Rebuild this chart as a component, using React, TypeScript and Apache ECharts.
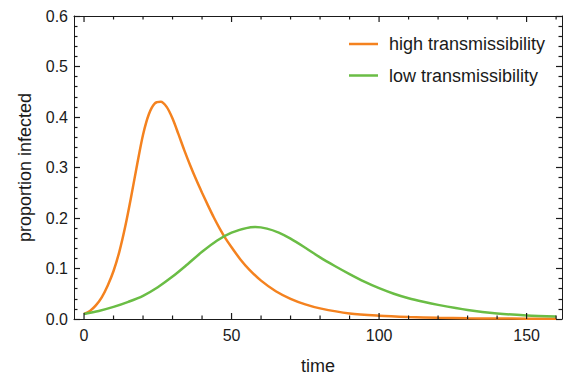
import React, { useEffect, useRef } from "react";
import * as echarts from "echarts";

const seriesNames = ["high transmissibility", "low transmissibility"];
const tHigh = [0, 2, 4, 6, 8, 10, 12, 14, 16, 18, 20, 22, 24, 26, 28, 30, 32, 34, 36, 38, 40, 42, 44, 46, 48, 50, 53, 56, 60, 65, 70, 75, 80, 90, 100, 110, 120, 130, 140, 150, 160];
const vHigh = [0.010, 0.016, 0.027, 0.043, 0.066, 0.095, 0.134, 0.184, 0.243, 0.306, 0.365, 0.406, 0.427, 0.430, 0.420, 0.397, 0.366, 0.334, 0.304, 0.276, 0.250, 0.225, 0.201, 0.179, 0.159, 0.142, 0.118, 0.098, 0.076, 0.055, 0.040, 0.029, 0.021, 0.011, 0.0065, 0.004, 0.0025, 0.0015, 0.001, 0.0006, 0.0004];
const tLow = [0, 5, 10, 15, 20, 25, 30, 35, 40, 45, 50, 55, 58, 62, 66, 70, 75, 80, 85, 90, 95, 100, 105, 110, 115, 120, 130, 140, 150, 160];
const vLow = [0.010, 0.016, 0.024, 0.034, 0.046, 0.063, 0.084, 0.108, 0.133, 0.155, 0.171, 0.180, 0.182, 0.179, 0.171, 0.159, 0.141, 0.122, 0.105, 0.089, 0.074, 0.061, 0.050, 0.041, 0.034, 0.028, 0.018, 0.011, 0.007, 0.005];
const xMajorTicks = [0, 50, 100, 150];
const xMinorTicks = [10, 20, 30, 40, 60, 70, 80, 90, 110, 120, 130, 140, 160];

const X_MIN = -3.4;
const X_MAX = 162;
const Y_MIN = 0;
const Y_MAX = 0.6;
const FONT = "'Liberation Sans', Arial, sans-serif";
const INK = "#1a1a1a";
const COLORS = ["#F4821F", "#6ABD45"];
const TICK_W = 1.2;

function frameXAxis(position: "bottom" | "top", withLabels: boolean): any {
  return {
    type: "value",
    position,
    min: X_MIN,
    max: X_MAX,
    name: withLabels ? "time" : "",
    nameLocation: "middle",
    nameGap: 38,
    nameTextStyle: { fontSize: 18, color: INK, fontFamily: FONT },
    axisLine: { show: true, onZero: false, lineStyle: { color: INK, width: 1 } },
    axisTick: { show: false },
    axisLabel: {
      show: withLabels,
      customValues: xMajorTicks,
      fontSize: 16,
      color: INK,
      fontFamily: FONT,
      margin: 8,
    },
    splitLine: { show: false },
  };
}

function yAxisDef(position: "left" | "right", withLabels: boolean): any {
  return {
    type: "value",
    position,
    min: Y_MIN,
    max: Y_MAX,
    interval: 0.1,
    name: withLabels ? "proportion infected" : "",
    nameLocation: "middle",
    nameGap: 40,
    nameTextStyle: { fontSize: 18, color: INK, fontFamily: FONT },
    axisLine: { show: true, onZero: false, lineStyle: { color: INK, width: 1 } },
    axisTick: { show: true, inside: true, length: 6, lineStyle: { color: INK, width: TICK_W } },
    minorTick: { show: true, splitNumber: 5, length: 3.5, lineStyle: { color: INK, width: TICK_W } },
    axisLabel: {
      show: withLabels,
      fontSize: 16,
      color: INK,
      fontFamily: FONT,
      margin: 6,
      formatter: (v: number) => v.toFixed(1),
    },
    splitLine: { show: false },
    minorSplitLine: { show: false },
  };
}

function tickSeries(values: number[], atY: number, len: number, dir: number): any {
  return {
    type: "scatter",
    xAxisIndex: 0,
    yAxisIndex: 0,
    data: values.map((t) => [t, atY]),
    symbol: "rect",
    symbolSize: [TICK_W, len],
    symbolOffset: [0, (dir * len) / 2],
    itemStyle: { color: INK, opacity: 1 },
    silent: true,
    clip: false,
    z: 5,
    emphasis: { disabled: true },
    tooltip: { show: false },
  };
}

export default function App() {
  const ref = useRef<HTMLDivElement>(null);
  useEffect(() => {
    if (!ref.current) return;
    const chart = echarts.init(ref.current, null, { renderer: "svg" });
    const option: any = {
      animation: false,
      backgroundColor: "#ffffff",
      textStyle: { fontFamily: FONT },
      grid: { left: 74, right: 2, top: 16, bottom: 57, containLabel: false, outerBoundsMode: "none" },
      legend: {
        show: true,
        orient: "vertical",
        left: 349,
        top: 35,
        padding: 0,
        itemWidth: 29,
        itemHeight: 14,
        itemGap: 13.5,
        icon: "path://M0,6 L29,6 L29,8.5 L0,8.5 Z",
        textStyle: { fontSize: 18, color: INK, fontFamily: FONT, padding: [0, 0, 0, 6] },
        data: seriesNames,
      },
      xAxis: [frameXAxis("bottom", true), frameXAxis("top", false)],
      yAxis: [yAxisDef("left", true), yAxisDef("right", false)],
      series: [
        {
          name: seriesNames[0],
          type: "line",
          xAxisIndex: 0,
          yAxisIndex: 0,
          data: tHigh.map((t, i) => [t, vHigh[i]]),
          showSymbol: false,
          smooth: 0.3,
          lineStyle: { color: COLORS[0], width: 2.5 },
          itemStyle: { color: COLORS[0] },
          z: 3,
        },
        {
          name: seriesNames[1],
          type: "line",
          xAxisIndex: 0,
          yAxisIndex: 0,
          data: tLow.map((t, i) => [t, vLow[i]]),
          showSymbol: false,
          smooth: 0.3,
          lineStyle: { color: COLORS[1], width: 2.5 },
          itemStyle: { color: COLORS[1] },
          z: 3,
        },
        tickSeries(xMajorTicks, Y_MIN, 6, -1),
        tickSeries(xMinorTicks, Y_MIN, 3.5, -1),
        tickSeries(xMajorTicks, Y_MAX, 6, 1),
        tickSeries(xMinorTicks, Y_MAX, 3.5, 1),
      ],
    };
    chart.setOption(option);
    return () => chart.dispose();
  }, []);
  return (
    <div
      ref={ref}
      style={{ position: "fixed", left: 0, top: 0, width: 564, height: 376, background: "#fff" }}
    />
  );
}
